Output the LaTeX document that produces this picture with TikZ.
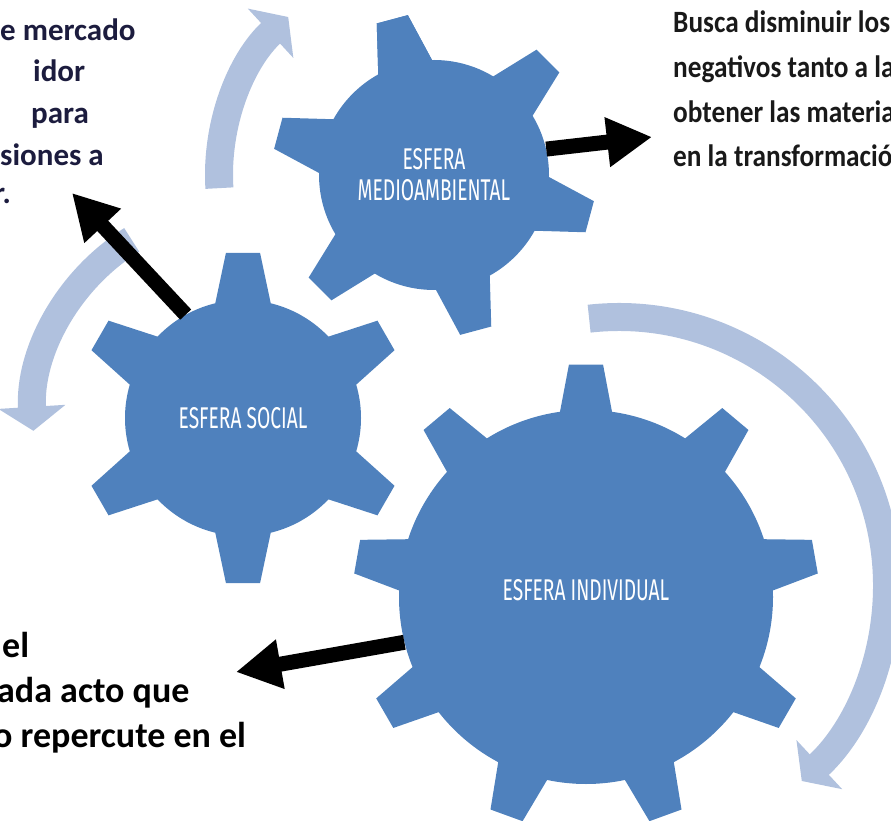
\documentclass[tikz,border=0pt]{standalone}
\usepackage{fontspec}
\setmainfont{Carlito}
\newfontfamily\gearfont[FakeStretch=0.64]{Fira Sans}
\newfontfamily\notefont[FakeStretch=0.88]{Carlito}
\usetikzlibrary{calc,arrows.meta}
\definecolor{gearblue}{RGB}{79,129,189}
\definecolor{ringblue}{RGB}{176,193,222}
\definecolor{inkblue}{RGB}{28,28,62}

\begin{document}
\begin{tikzpicture}[x=1pt, y=1pt,
  gear/.style={circle, fill=gearblue, inner sep=0pt, text=white, align=center,
    font=\gearfont\fontsize{30}{31}\selectfont},
  tooth/.style={fill=gearblue},
  ring/.style={draw=ringblue, line width=28pt, -{Triangle[length=24pt, width=66pt]}},
  pointer/.style={draw=black, line width=15pt, -{Triangle[length=45pt, width=47pt]}},
  note/.style={anchor=base west, inner sep=0pt}]
  \useasboundingbox (0,0) rectangle (891,820);
  \clip (0,0) rectangle (891,820);

  \coordinate (M) at (434,645);   % esfera medioambiental
  \coordinate (S) at (243,402);   % esfera social
  \coordinate (I) at (586,223);   % esfera individual
  \coordinate (R) at (619,235);   % centro del arco derecho
  \coordinate (mtip) at (652,683);
  \coordinate (stip) at (72,627);
  \coordinate (itip) at (236,148);

  % flechas curvas
  \draw[ring] ($(M)+(183.5:215)$) arc[start angle=183.5, end angle=132.7, radius=215];
  \draw[ring] ($(S)+(122:210)$) arc[start angle=122, end angle=183.5, radius=210];
  \draw[ring] ($(R)+(96.4:268)$) arc[start angle=96.4, end angle=-47, radius=268];

  % dientes
  \begin{scope}[shift={(M)}]
    \foreach \a in {105,165,...,465}
      \fill[tooth] (\a-14:95) -- (\a-14:115) -- (\a-5.7:162) -- (\a+5.7:162) -- (\a+14:115) -- (\a+14:95) -- cycle;
  \end{scope}
  \begin{scope}[shift={(S)}]
    \foreach \a in {90,150,...,390}
      \fill[tooth] (\a-13.6:100) -- (\a-13.6:118) -- (\a-5.9:166) -- (\a+5.9:166) -- (\a+13.6:118) -- (\a+13.6:100) -- cycle;
  \end{scope}
  \begin{scope}[shift={(I)}]
    \foreach \a in {90,130,...,410}
      \fill[tooth] (\a-8:165) -- (\a-8:187) -- (\a-4.2:233) -- (\a+4.2:233) -- (\a+8:187) -- (\a+8:165) -- cycle;
  \end{scope}

  \node[gear, minimum size=230pt] (medio) at (M) {ESFERA\\MEDIOAMBIENTAL};
  \node[gear, minimum size=236pt] (social) at (S) {ESFERA SOCIAL};
  \node[gear, minimum size=374pt, text depth=14pt] (indiv) at (I) {ESFERA INDIVIDUAL};

  \draw[pointer] (medio.13) -- (mtip);
  \draw[pointer] (social.119) -- (stip);
  \draw[pointer] (indiv.194) -- (itip);

  % textos (cortados por el borde)
  \begin{scope}[font=\bfseries\fontsize{31}{37}\selectfont, text=inkblue]
    \node[note] (tl1) at (0,779) {e mercado};
    \node[note] (tl2) at (33,738) {idor};
    \node[note] (tl3) at (31,696) {para};
    \node[note] (tl4) at (0,654) {siones a};
    \node[note] (tl5) at (-6,616) {r.};
  \end{scope}
  \begin{scope}[font=\notefont\bfseries\fontsize{31}{37}\selectfont, text=black!90]
    \node[note] (tr1) at (673,787) {Busca disminuir los};
    \node[note] (tr2) at (673,742) {negativos tanto a la};
    \node[note] (tr3) at (673,697) {obtener las materia};
    \node[note] (tr4) at (673,653) {en la transformació};
  \end{scope}
  \begin{scope}[font=\bfseries\fontsize{36}{43}\selectfont]
    \node[note] (bl1) at (2,163) {el};
    \node[note] (bl2) at (-3,118) {ada acto que};
    \node[note] (bl3) at (-7,73) {o repercute en el};
  \end{scope}
\end{tikzpicture}
\end{document}
